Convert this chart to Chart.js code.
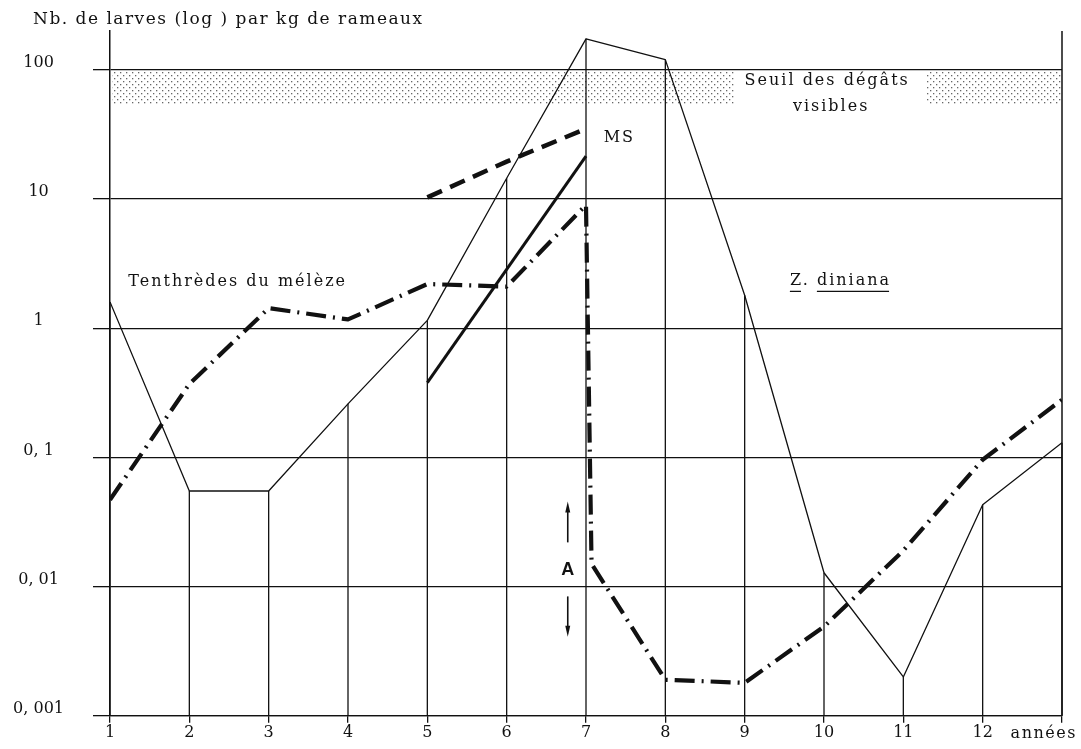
<!DOCTYPE html>
<html>
<head>
<meta charset="utf-8">
<script src="https://cdn.jsdelivr.net/npm/chart.js@4/dist/chart.umd.min.js"></script>
<style>
  html, body { margin: 0; padding: 0; background: #fff; }
  canvas { display: block; }
</style>
</head>
<body>
<canvas id="chart" width="1081" height="749"></canvas>
<script>
const years = [1, 2, 3, 4, 5, 6, 7, 8, 9, 10, 11, 12, 13];
const xTickLabels = ['1', '2', '3', '4', '5', '6', '7', '8', '9', '10', '11', '12', ''];
const yTickValues = [0.001, 0.01, 0.1, 1, 10, 100];
const yTickLabels = ['0, 001', '0, 01', '0, 1', '1', '10', '100'];

// Z. diniana (thin line, also gives the drop lines)
const dinianaValues = [1.6, 0.055, 0.055, 0.26, 1.15, 14.5, 174, 120, 1.8, 0.0128, 0.002, 0.043, 0.13];

// Tenthrèdes du mélèze (heavy dash-dot line)
const tenthredesYears = [1, 2, 3, 4, 5, 6, 7, 7.07, 8, 9, 10, 11, 12, 13];
const tenthredesValues = [0.047, 0.37, 1.43, 1.17, 2.2, 2.1, 9, 0.015, 0.0019, 0.0018, 0.0049, 0.019, 0.096, 0.28];

// heavy dashed line ending near MS
const msYears = [5, 6, 7];
const msValues = [10.3, 19.5, 35];

// heavy solid line
const solidYears = [5, 7];
const solidValues = [0.38, 21.5];

// shaded band "Seuil des dégâts visibles"
const thresholdLow = 54;
const thresholdHigh = 100;
const thresholdSpans = [[1, 8.87], [11.27, 13]];

const notes = [
  { text: 'Tenthrèdes du mélèze', x: 1.23, y: 2.27, align: 'left' },
  { text: 'Seuil des dégâts', x: 10.04, y: 82, align: 'center' },
  { text: 'visibles', x: 10.09, y: 51.7, align: 'center' },
  { text: 'MS', x: 7.42, y: 29.8, align: 'center' },
];
const markA = { x: 6.77, y: 0.0135, up: [0.022, 0.0455], down: [0.0084, 0.0041] };

const ink = '#111';
const serif = 'DejaVu Serif';

const toPoints = (xs, ys) => xs.map((x, i) => ({ x: x, y: ys[i] }));

const makeStipple = (ctx) => {
  const tile = document.createElement('canvas');
  tile.width = 6;
  tile.height = 6;
  const t = tile.getContext('2d');
  t.fillStyle = '#666';
  t.fillRect(0, 0, 1.3, 1.3);
  t.fillRect(3, 3, 1.3, 1.3);
  return ctx.createPattern(tile, 'repeat');
};

const drawArrow = (ctx, x, yFrom, yTo) => {
  const dir = yTo < yFrom ? -1 : 1;
  ctx.beginPath();
  ctx.moveTo(x, yFrom);
  ctx.lineTo(x, yTo - dir * 9);
  ctx.stroke();
  ctx.beginPath();
  ctx.moveTo(x, yTo);
  ctx.lineTo(x - 2.5, yTo - dir * 11);
  ctx.lineTo(x + 2.5, yTo - dir * 11);
  ctx.closePath();
  ctx.fill();
};

const decorations = {
  id: 'decorations',
  beforeDatasetsDraw(chart) {
    const { ctx, chartArea, scales: { x, y } } = chart;
    ctx.save();

    ctx.fillStyle = makeStipple(ctx);
    for (const [from, to] of thresholdSpans) {
      const left = x.getPixelForValue(from) + 2;
      const right = x.getPixelForValue(to);
      const top = y.getPixelForValue(thresholdHigh) + 2;
      const bottom = y.getPixelForValue(thresholdLow);
      ctx.fillRect(left, top, right - left, bottom - top);
    }

    ctx.strokeStyle = ink;
    ctx.lineWidth = 1.3;
    years.forEach((year, i) => {
      const px = x.getPixelForValue(year);
      ctx.beginPath();
      ctx.moveTo(px, chartArea.bottom);
      ctx.lineTo(px, y.getPixelForValue(dinianaValues[i]));
      ctx.stroke();
    });

    ctx.lineWidth = 1.5;
    ctx.beginPath();
    ctx.moveTo(chartArea.right, chartArea.top);
    ctx.lineTo(chartArea.right, chartArea.bottom);
    ctx.stroke();
    ctx.restore();
  },
  afterDatasetsDraw(chart) {
    const { ctx, chartArea, scales: { x, y } } = chart;
    ctx.save();
    ctx.fillStyle = ink;
    ctx.strokeStyle = ink;
    ctx.textBaseline = 'middle';
    ctx.font = '16px "' + serif + '"';
    ctx.letterSpacing = '2px';

    for (const note of notes) {
      ctx.textAlign = note.align;
      ctx.fillText(note.text, x.getPixelForValue(note.x), y.getPixelForValue(note.y));
    }

    // Z. diniana with underlined words
    const zx = x.getPixelForValue(9.57);
    const zy = y.getPixelForValue(2.31);
    ctx.textAlign = 'left';
    ctx.fillText('Z. diniana', zx, zy);
    const wZ = ctx.measureText('Z').width;
    const wGap = ctx.measureText('Z. ').width;
    const wAll = ctx.measureText('Z. diniana').width;
    ctx.lineWidth = 1.3;
    ctx.beginPath();
    ctx.moveTo(zx, zy + 10);
    ctx.lineTo(zx + wZ - 2, zy + 10);
    ctx.moveTo(zx + wGap, zy + 10);
    ctx.lineTo(zx + wAll - 2, zy + 10);
    ctx.stroke();

    // axis title and unit
    ctx.font = '17px "' + serif + '"';
    ctx.letterSpacing = '1.5px';
    ctx.fillText('Nb. de larves (log ) par kg de rameaux', chartArea.left - 77, chartArea.top - 11);
    ctx.font = '16px "' + serif + '"';
    ctx.textAlign = 'center';
    ctx.fillText('années', x.getPixelForValue(12.77), chartArea.bottom + 18);

    // mark A with arrows
    const ax = x.getPixelForValue(markA.x);
    ctx.letterSpacing = '0px';
    ctx.font = 'bold 18px "Liberation Sans"';
    ctx.fillText('A', ax, y.getPixelForValue(markA.y));
    ctx.lineWidth = 1.6;
    drawArrow(ctx, ax, y.getPixelForValue(markA.up[0]), y.getPixelForValue(markA.up[1]));
    drawArrow(ctx, ax, y.getPixelForValue(markA.down[0]), y.getPixelForValue(markA.down[1]));
    ctx.restore();
  },
};

const lineStyle = {
  type: 'line',
  borderColor: ink,
  pointRadius: 0,
  tension: 0,
  fill: false,
  borderCapStyle: 'butt',
  borderJoinStyle: 'round',
};

new Chart(document.querySelector('#chart'), {
  type: 'line',
  data: {
    datasets: [
      Object.assign({}, lineStyle, {
        label: 'Z. diniana',
        data: toPoints(years, dinianaValues),
        borderWidth: 1.3,
      }),
      Object.assign({}, lineStyle, {
        label: 'Tenthrèdes du mélèze',
        data: toPoints(tenthredesYears, tenthredesValues),
        borderWidth: 4.2,
        borderDash: [20, 7, 2, 7],
      }),
      Object.assign({}, lineStyle, {
        label: 'MS',
        data: toPoints(msYears, msValues),
        borderWidth: 4.5,
        borderDash: [16, 9],
      }),
      Object.assign({}, lineStyle, {
        label: 'solid',
        data: toPoints(solidYears, solidValues),
        borderWidth: 3,
      }),
    ],
  },
  options: {
    responsive: false,
    devicePixelRatio: 1,
    animation: false,
    layout: {
      padding: { top: 31, right: 19, bottom: 7, left: 0 },
    },
    plugins: {
      legend: { display: false },
      tooltip: { enabled: false },
      title: { display: false },
    },
    scales: {
      x: {
        type: 'linear',
        min: 1,
        max: 13,
        afterBuildTicks: (scale) => {
          scale.ticks = years.map((value) => ({ value: value }));
        },
        ticks: {
          callback: (value, index) => xTickLabels[index],
          autoSkip: false,
          maxRotation: 0,
          padding: 0,
          color: ink,
          font: { family: serif, size: 16 },
        },
        grid: {
          drawOnChartArea: false,
          drawTicks: true,
          tickLength: 7,
          color: ink,
          lineWidth: 1.3,
        },
        border: { display: true, color: ink, width: 1.3 },
      },
      y: {
        type: 'logarithmic',
        min: 0.001,
        max: 200,
        afterBuildTicks: (scale) => {
          scale.ticks = yTickValues.map((value) => ({ value: value }));
        },
        afterFit: (scale) => {
          scale.width = 110;
          scale.paddingTop = 0;
          scale.paddingBottom = 0;
        },
        ticks: {
          callback: (value, index) => yTickLabels[index],
          crossAlign: 'center',
          padding: 29,
          labelOffset: -7,
          color: ink,
          font: { family: serif, size: 16 },
        },
        grid: {
          color: ink,
          lineWidth: 1.3,
          tickLength: 17,
        },
        border: { display: true, color: ink, width: 1.5 },
      },
    },
  },
  plugins: [decorations],
});
</script>
</body>
</html>
